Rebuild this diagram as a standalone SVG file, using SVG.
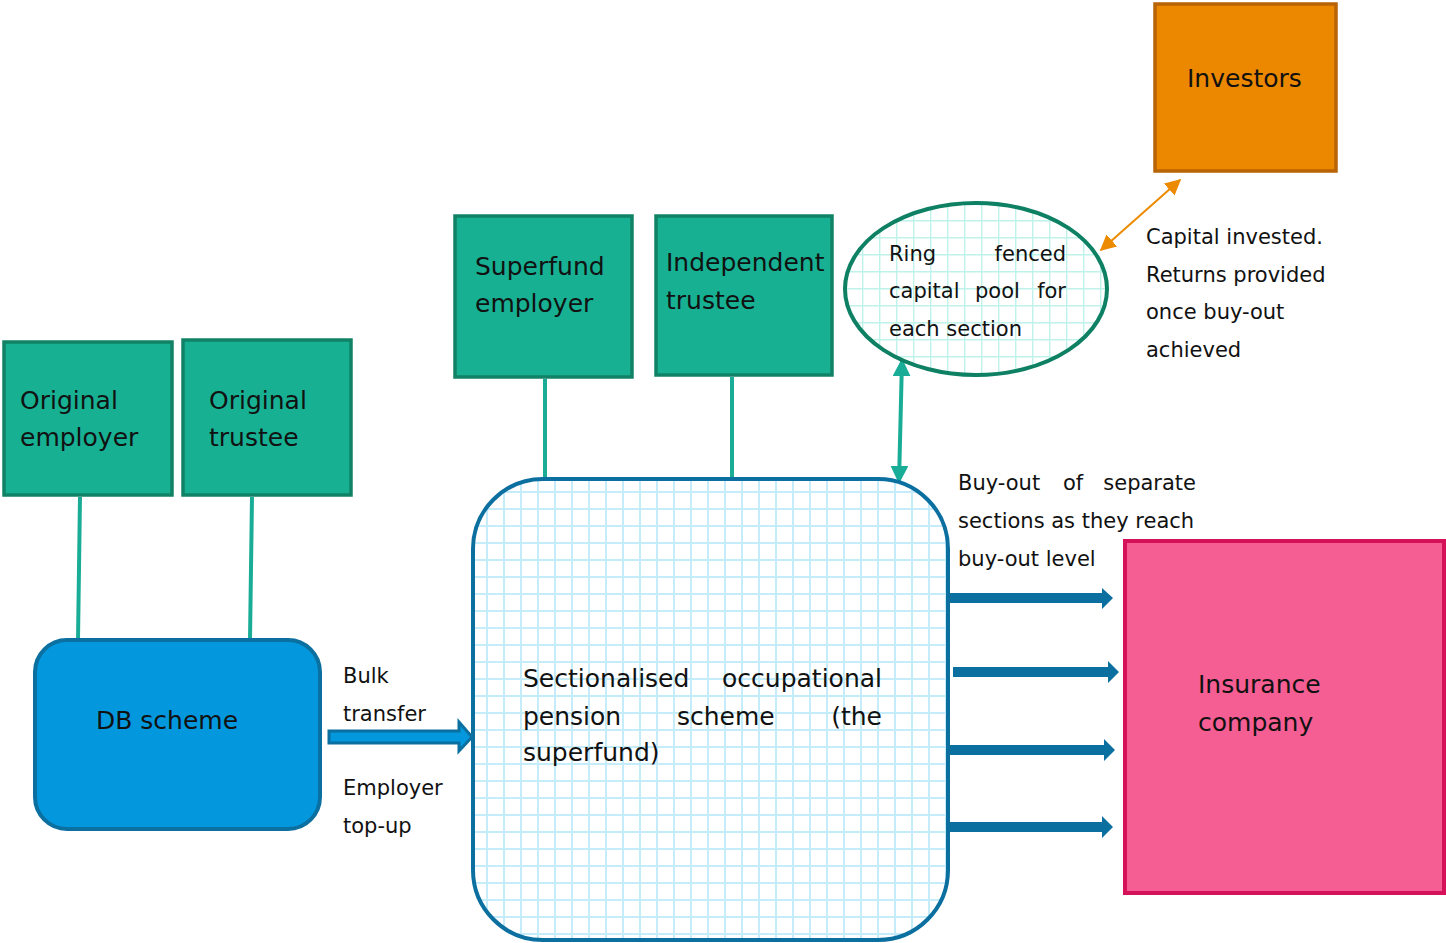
<svg xmlns="http://www.w3.org/2000/svg" width="1446" height="943" viewBox="0 0 1446 943">
<defs>
<pattern id="gridBlue" x="469" y="474" width="17" height="17" patternUnits="userSpaceOnUse">
<rect width="17" height="17" fill="#ffffff"/>
<path d="M0 1H17M1 0V17" stroke="#c4ecfb" stroke-width="2" fill="none"/>
</pattern>
<pattern id="gridCyan" x="845" y="203" width="17" height="17" patternUnits="userSpaceOnUse">
<rect width="17" height="17" fill="#ffffff"/>
<path d="M0 0.7H17M0.7 0V17" stroke="#bff2ea" stroke-width="1.4" fill="none"/>
</pattern>
<marker id="tealHead" viewBox="0 0 10 10" refX="9" refY="5" markerWidth="4.5" markerHeight="4.5" orient="auto-start-reverse" markerUnits="strokeWidth">
<path d="M0 0L10 5L0 10Z" fill="#19ad97"/>
</marker>
<marker id="orangeHead" viewBox="0 0 10 10" refX="9" refY="5" markerWidth="8" markerHeight="8" orient="auto-start-reverse" markerUnits="strokeWidth">
<path d="M0 0L10 5L0 10Z" fill="#ec8a00"/>
</marker>
<style>
text{font-family:"DejaVu Sans","Verdana",sans-serif;fill:#111111}
.big{font-size:25px}
.small{font-size:21px}
.green{fill:#17b093;stroke:#118266;stroke-width:3.5}
.line{stroke:#19ad97;stroke-width:4;fill:none}
.outArrow{fill:#0b6fa0}
</style>
</defs>

<g id="connectors">
<line class="line" x1="80" y1="497" x2="78" y2="640"/>
<line class="line" x1="252" y1="497" x2="250" y2="640"/>
<line class="line" x1="545" y1="379" x2="545" y2="477"/>
<line class="line" x1="732" y1="377" x2="732" y2="477"/>
<line x1="902" y1="360" x2="899" y2="482" stroke="#19ad97" stroke-width="4" marker-start="url(#tealHead)" marker-end="url(#tealHead)"/>
<line x1="1180" y1="180" x2="1101" y2="250" stroke="#ec8a00" stroke-width="2" marker-start="url(#orangeHead)" marker-end="url(#orangeHead)"/>
<polygon points="329,731 459,731 459,722 472,737 459,751 459,743 329,743" fill="#0398dd" stroke="#0b6fa0" stroke-width="3"/>
<polygon class="outArrow" points="950,593 1102,593 1102,588 1113,598 1102,609 1102,603 950,603"/>
<polygon class="outArrow" points="953,667 1108,667 1108,661 1119,672 1108,683 1108,677 953,677"/>
<polygon class="outArrow" points="950,745 1104,745 1104,739 1115,750 1104,761 1104,755 950,755"/>
<polygon class="outArrow" points="950,822 1102,822 1102,816 1113,827 1102,838 1102,832 950,832"/>
</g>

<g id="superfund">
<rect x="473" y="479" width="475" height="461" rx="70" fill="url(#gridBlue)" stroke="#0b6fa0" stroke-width="4"/>
<text class="big" x="523" y="687">Sectionalised</text>
<text class="big" x="882" y="687" text-anchor="end">occupational</text>
<text class="big" x="523" y="725">pension</text>
<text class="big" x="677" y="725">scheme</text>
<text class="big" x="882" y="725" text-anchor="end">(the</text>
<text class="big" x="523" y="761">superfund)</text>
</g>

<g id="ringfenced">
<ellipse cx="976" cy="289" rx="131" ry="86" fill="url(#gridCyan)" stroke="#0e8063" stroke-width="4"/>
<text class="small" x="889" y="261">Ring</text>
<text class="small" x="1066" y="261" text-anchor="end">fenced</text>
<text class="small" x="889" y="298">capital</text>
<text class="small" x="975" y="298">pool</text>
<text class="small" x="1066" y="298" text-anchor="end">for</text>
<text class="small" x="889" y="336">each section</text>
</g>

<g id="original-employer">
<rect class="green" x="4" y="342" width="168" height="153"/>
<text class="big" x="20" y="409">Original</text>
<text class="big" x="20" y="446">employer</text>
</g>

<g id="original-trustee">
<rect class="green" x="183" y="340" width="168" height="155"/>
<text class="big" x="209" y="409">Original</text>
<text class="big" x="209" y="446">trustee</text>
</g>

<g id="superfund-employer">
<rect class="green" x="455" y="216" width="177" height="161"/>
<text class="big" x="475" y="275">Superfund</text>
<text class="big" x="475" y="312">employer</text>
</g>

<g id="independent-trustee">
<rect class="green" x="656" y="216" width="176" height="159"/>
<text class="big" x="666" y="271">Independent</text>
<text class="big" x="666" y="309">trustee</text>
</g>

<g id="db-scheme">
<rect x="35" y="640" width="285" height="189" rx="32" fill="#0398dd" stroke="#0b6fa0" stroke-width="4"/>
<text class="big" x="96" y="729">DB scheme</text>
</g>

<g id="investors">
<rect x="1155" y="4" width="181" height="167" fill="#ec8800" stroke="#b86305" stroke-width="3.5"/>
<text class="big" x="1187" y="87">Investors</text>
</g>

<g id="insurance">
<rect x="1125" y="541" width="319" height="352" fill="#f55e92" stroke="#d41159" stroke-width="4"/>
<text class="big" x="1198" y="693">Insurance</text>
<text class="big" x="1198" y="731">company</text>
</g>

<g id="labels">
<text class="small" x="343" y="683">Bulk</text>
<text class="small" x="343" y="721">transfer</text>
<text class="small" x="343" y="795">Employer</text>
<text class="small" x="343" y="833">top-up</text>
<text class="small" x="1146" y="244">Capital invested.</text>
<text class="small" x="1146" y="282">Returns provided</text>
<text class="small" x="1146" y="319">once buy-out</text>
<text class="small" x="1146" y="357">achieved</text>
<text class="small" x="958" y="490">Buy-out</text>
<text class="small" x="1063" y="490">of</text>
<text class="small" x="1196" y="490" text-anchor="end">separate</text>
<text class="small" x="958" y="528">sections as they reach</text>
<text class="small" x="958" y="566">buy-out level</text>
</g>
</svg>
